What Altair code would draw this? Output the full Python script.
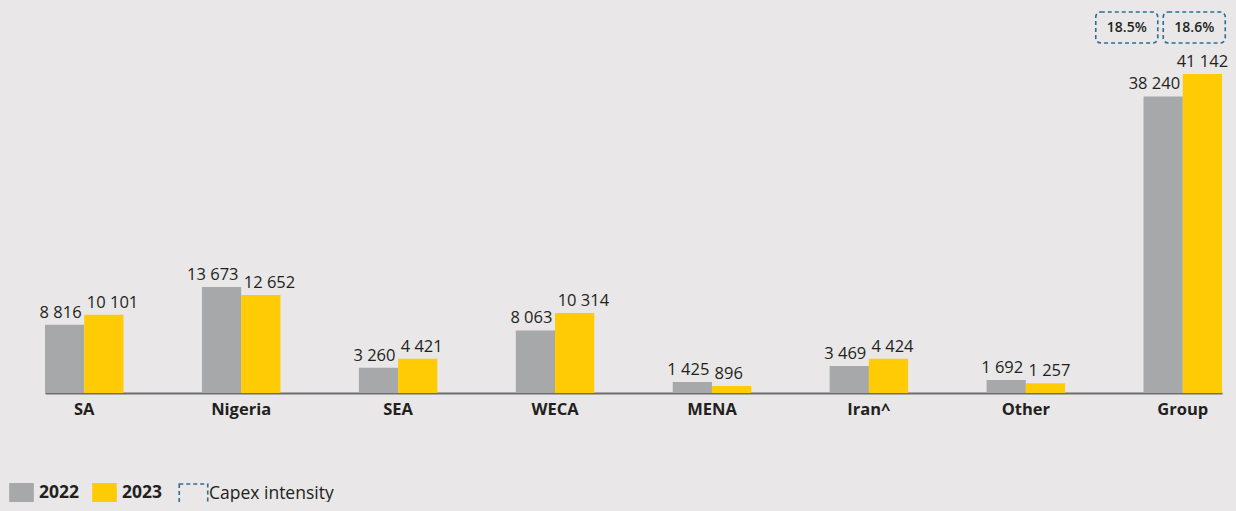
import altair as alt
import pandas as pd

categories = ["SA", "Nigeria", "SEA", "WECA", "MENA", "Iran^", "Other", "Group"]
years = ["2022", "2023"]
values_2022 = [8816, 13673, 3260, 8063, 1425, 3469, 1692, 38240]
values_2023 = [10101, 12652, 4421, 10314, 896, 4424, 1257, 41142]
capex_category = "Group"
capex_years = ["2022", "2023"]
capex_labels = ["18.5%", "18.6%"]
capex_legend = "Capex intensity"

GRAY = "#A7A8AA"
YELLOW = "#FFCB05"
BLUE = "#2B6D93"
INK = "#231F20"
BG = "#E9E7E8"
FONT = "Open Sans"

rows = []
for c, a, b in zip(categories, values_2022, values_2023):
    for y, v in ((years[0], a), (years[1], b)):
        rows.append({"category": c, "year": y, "value": v,
                     "label": f"{v:,}".replace(",", " ")})
df = pd.DataFrame(rows)

capex = pd.DataFrame({"category": [capex_category] * 2, "year": capex_years,
                      "label": capex_labels, "kind": [capex_legend] * 2})

x = alt.X("category:N", sort=categories,
          scale=alt.Scale(paddingInner=0.5, paddingOuter=0),
          axis=alt.Axis(title=None, ticks=False, labelAngle=0, labelFontSize=16.5,
                        labelFontWeight="bold", labelColor=INK, labelPadding=8,
                        domainColor="#6D6E71", domainWidth=2, labelFont=FONT))
xo = alt.XOffset("year:N", sort=years, scale=alt.Scale(paddingInner=0, paddingOuter=0))
y = alt.Y("value:Q", scale=alt.Scale(domain=[0, 49650], nice=False), axis=None)

base = alt.Chart(df).encode(x=x, xOffset=xo)

bars = base.mark_bar().encode(
    y=y,
    color=alt.Color("year:N", sort=years,
                    scale=alt.Scale(domain=years, range=[GRAY, YELLOW]),
                    legend=alt.Legend(orient="none", legendX=-33, legendY=475,
                                      direction="horizontal", title=None,
                                      symbolType="M-1.3,-1H1.3V1H-1.3Z",
                                      symbolSize=361, symbolStrokeWidth=0,
                                      symbolOpacity=1,
                                      labelFontSize=17.5, labelFontWeight="bold",
                                      labelColor=INK, labelFont=FONT,
                                      labelOffset=8, columnPadding=12, padding=0)),
)

txt_kw = dict(fontSize=16.5, color=INK, font=FONT, baseline="alphabetic", dy=-7)
lab22 = base.mark_text(align="right", dx=17, **txt_kw).encode(
    y=y, text="label:N").transform_filter(alt.datum.year == "2022")
lab23 = base.mark_text(align="left", dx=-17, **txt_kw).encode(
    y=y, text="label:N").transform_filter(
    (alt.datum.year == "2023") & (alt.datum.category != capex_category))
lab23g = base.mark_text(align="center", **txt_kw).encode(
    y=y, text="label:N").transform_filter(
    (alt.datum.year == "2023") & (alt.datum.category == capex_category))

cbase = alt.Chart(capex).encode(x=x)
dash = alt.StrokeDash("kind:N", scale=alt.Scale(domain=[capex_legend], range=[[4, 3]]),
                      legend=alt.Legend(orient="none", legendX=138, legendY=475,
                                        title=None, symbolType="M-1.5,-1H1.5V1H-1.5Z",
                                        symbolSize=361, symbolStrokeColor=BLUE,
                                        symbolFillColor="transparent",
                                        symbolStrokeWidth=1.6, labelFontSize=17.5,
                                        labelColor=INK, labelFont=FONT,
                                        labelOffset=5, padding=0))
box_kw = dict(width=62, filled=False, stroke=BLUE, strokeWidth=1.6, cornerRadius=5)
box22 = cbase.mark_bar(xOffset=-56, **box_kw).encode(
    y=alt.value(4), y2=alt.value(35), strokeDash=dash).transform_filter(alt.datum.year == "2022")
box23 = cbase.mark_bar(xOffset=11.5, **box_kw).encode(
    y=alt.value(4), y2=alt.value(35), strokeDash=dash).transform_filter(alt.datum.year == "2023")
btxt_kw = dict(fontSize=14, fontWeight=600, color=INK, font=FONT, baseline="middle", align="center")
bt22 = cbase.mark_text(dx=-56, **btxt_kw).encode(
    y=alt.value(20), text="label:N").transform_filter(alt.datum.year == "2022")
bt23 = cbase.mark_text(dx=11.5, **btxt_kw).encode(
    y=alt.value(20), text="label:N").transform_filter(alt.datum.year == "2023")

chart = alt.layer(bars, lab22, lab23, lab23g, box22, box23, bt22, bt23).properties(
    width=1177, height=385,
    autosize=alt.AutoSizeParams(type="none"),
    padding={"left": 37, "top": 0, "right": 6, "bottom": 109},
    background=BG,
).configure(font=FONT).configure_view(strokeWidth=0, stroke="transparent")

chart.save("out.html", embed_options={"renderer": "svg", "actions": False})

with open("out.html", encoding="utf-8") as f:
    html = f.read()
html = html.replace("<head>", "<head><style>body{background:%s;}</style>" % BG, 1)
with open("out.html", "w", encoding="utf-8") as f:
    f.write(html)
